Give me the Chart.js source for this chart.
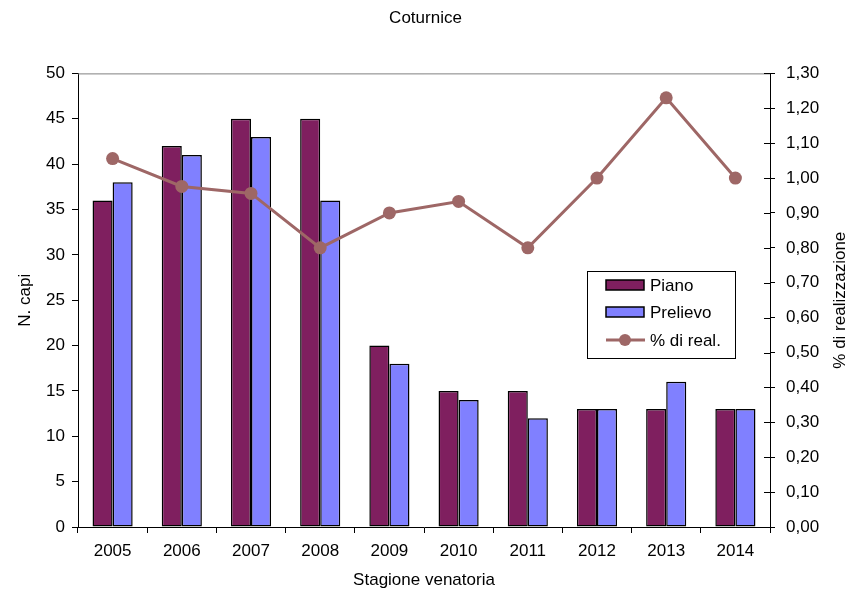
<!DOCTYPE html>
<html>
<head>
<meta charset="utf-8">
<script src="https://cdn.jsdelivr.net/npm/chart.js@4.4.0/dist/chart.umd.min.js"></script>
<style>
    html, body { margin: 0; padding: 0; background: #fff; }
    #wrap { width: 851px; height: 595px; }
</style>
</head>
<body>
<div id="wrap"><canvas id="chart" width="851" height="595"></canvas></div>
<script>
// Data
const seasons = ['2005', '2006', '2007', '2008', '2009', '2010', '2011', '2012', '2013', '2014'];
const piano = [36, 42, 45, 45, 20, 15, 15, 13, 13, 13];
const prelievo = [38, 41, 43, 36, 18, 14, 12, 13, 16, 13];
const realizzazione = [1.056, 0.976, 0.956, 0.80, 0.90, 0.933, 0.80, 1.00, 1.23, 1.00];

const FONT = 'Liberation Sans, Arial, sans-serif';
const PIANO_COLOR = '#7f1f5f';
const PRELIEVO_COLOR = '#8080ff';
const LINE_COLOR = '#9e6766';

// Format numbers with comma decimals
function fmt2(v) {
    return v.toFixed(2).replace('.', ',');
}

// Frame, crossing ticks, right title and boxed legend
const extras = {
    id: 'extras',
    afterDraw(chart) {
        const ctx = chart.ctx;
        const a = chart.chartArea;
        const yr = chart.scales.yr;
        ctx.save();
        // gray top border
        ctx.strokeStyle = '#808080';
        ctx.lineWidth = 1;
        ctx.beginPath();
        ctx.moveTo(a.left, a.top + 0.5);
        ctx.lineTo(a.right, a.top + 0.5);
        ctx.stroke();
        // inner half of right ticks
        ctx.strokeStyle = '#000';
        yr.ticks.forEach((t, i) => {
            const y = Math.round(yr.getPixelForTick(i)) + 0.5;
            ctx.beginPath();
            ctx.moveTo(a.right - 6, y);
            ctx.lineTo(a.right, y);
            ctx.stroke();
        });

        // right axis title, reading bottom to top
        ctx.fillStyle = '#000';
        ctx.font = '17px ' + FONT;
        ctx.textAlign = 'center';
        ctx.textBaseline = 'middle';
        ctx.translate(840, (a.top + a.bottom) / 2);
        ctx.rotate(-Math.PI / 2);
        ctx.fillText('% di realizzazione', 0, 0);
        ctx.setTransform(1, 0, 0, 1, 0, 0);

        // legend
        const lx = 587, ly = 271, lw = 148, lh = 87;
        ctx.fillStyle = '#fff';
        ctx.fillRect(lx, ly, lw, lh);
        ctx.strokeStyle = '#000';
        ctx.lineWidth = 1;
        ctx.strokeRect(lx + 0.5, ly + 0.5, lw, lh);
        ctx.font = '17px ' + FONT;
        ctx.textAlign = 'left';
        ctx.textBaseline = 'middle';
        const ds = chart.data.datasets;
        const rows = [ly + 14, ly + 41, ly + 69];
        ds.forEach((d, i) => {
            const y = rows[i];
            if (d.type === 'line') {
                ctx.strokeStyle = LINE_COLOR;
                ctx.lineWidth = 3;
                ctx.beginPath();
                ctx.moveTo(lx + 19, y);
                ctx.lineTo(lx + 58, y);
                ctx.stroke();
                ctx.fillStyle = LINE_COLOR;
                ctx.beginPath();
                ctx.arc(lx + 38, y, 6, 0, Math.PI * 2);
                ctx.fill();
            } else {
                ctx.fillStyle = d.backgroundColor;
                ctx.fillRect(lx + 19, y - 5, 38, 10);
                ctx.strokeStyle = '#000';
                ctx.lineWidth = 1.5;
                ctx.strokeRect(lx + 19, y - 5, 38, 10);
            }
            ctx.fillStyle = '#000';
            ctx.fillText(d.label, lx + 63, y + 1);
        });
        ctx.restore();
    }
};

new Chart(document.getElementById('chart'), {
    type: 'bar',
    data: {
        labels: seasons,
        datasets: [
            {
                label: 'Piano',
                data: piano,
                backgroundColor: PIANO_COLOR,
                borderColor: '#000',
                borderWidth: 1.5,
                borderSkipped: false,
                yAxisID: 'y',
                categoryPercentage: 0.58,
                barPercentage: 1.0,
                order: 2
            },
            {
                label: 'Prelievo',
                data: prelievo,
                backgroundColor: PRELIEVO_COLOR,
                borderColor: '#000',
                borderWidth: 1.5,
                borderSkipped: false,
                yAxisID: 'y',
                categoryPercentage: 0.58,
                barPercentage: 1.0,
                order: 2
            },
            {
                type: 'line',
                label: '% di real.',
                data: realizzazione,
                borderColor: LINE_COLOR,
                backgroundColor: LINE_COLOR,
                borderWidth: 3,
                pointRadius: 6.5,
                pointBackgroundColor: LINE_COLOR,
                pointBorderWidth: 0,
                tension: 0,
                yAxisID: 'yr',
                order: 1
            }
        ]
    },
    options: {
        responsive: false,
        animation: false,
        plugins: {
            legend: { display: false },
            tooltip: { enabled: false },
            title: {
                display: true,
                text: 'Coturnice',
                color: '#000',
                font: { family: FONT, size: 17, weight: 'normal' },
                padding: { top: 8, bottom: 45 }
            }
        },
        layout: { padding: 0 },
        scales: {
            x: {
                border: { color: '#000', width: 1 },
                grid: { display: true, drawOnChartArea: false, tickLength: 6, color: '#000' },
                ticks: { color: '#000', font: { family: FONT, size: 17 }, padding: 8 },
                title: {
                    display: true, text: 'Stagione venatoria', color: '#000',
                    font: { family: FONT, size: 17 }, padding: { top: 6 }
                },
                afterFit(s) { s.height = 68; }
            },
            y: {
                position: 'left',
                min: 0, max: 50,
                border: { color: '#000', width: 1 },
                grid: { display: true, drawOnChartArea: false, tickLength: 6, color: '#000' },
                ticks: { stepSize: 5, color: '#000', font: { family: FONT, size: 17 }, padding: 7 },
                title: {
                    display: true, text: 'N. capi', color: '#000',
                    font: { family: FONT, size: 17 }, padding: { top: 15, bottom: 4 }
                },
                afterFit(s) { s.width = 78; }
            },
            yr: {
                position: 'right',
                min: 0, max: 1.3,
                border: { color: '#000', width: 1 },
                grid: { display: true, drawOnChartArea: false, tickLength: 5, color: '#000' },
                ticks: {
                    stepSize: 0.1, color: '#000', font: { family: FONT, size: 17 }, padding: 11,
                    callback: v => fmt2(v)
                },
                title: { display: false },
                afterFit(s) { s.width = 81; }
            }
        }
    },
    plugins: [extras]
});
</script>
</body>
</html>
